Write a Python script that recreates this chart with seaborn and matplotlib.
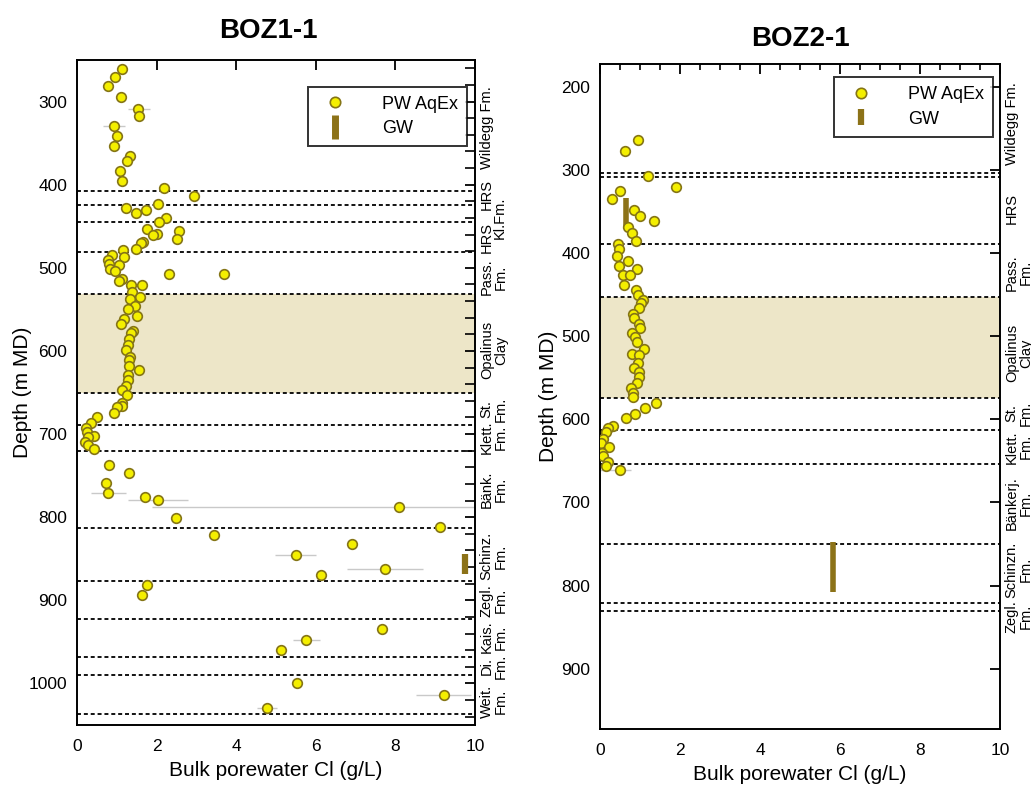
import numpy as np
import pandas as pd
import matplotlib
matplotlib.use("Agg")
import matplotlib.pyplot as plt
import matplotlib.transforms as mtransforms
from matplotlib.lines import Line2D
from matplotlib.ticker import MultipleLocator
import seaborn as sns

# ---------------- data: BOZ1-1 ----------------
boz1_cl = [1.14, 0.96, 0.78, 1.11, 1.54, 1.57, 0.92, 1.00, 0.93, 1.32, 1.26, 1.09, 1.13,
           2.19, 2.93, 2.03, 1.22, 1.74, 1.49, 2.24, 2.07, 1.77, 2.56, 2.01, 1.90, 2.50,
           1.67, 1.60, 1.47, 1.16, 0.87, 1.18, 0.78, 0.81, 1.06, 0.84, 0.95, 2.30, 3.70,
           1.13, 1.06, 1.36, 1.63, 1.38, 1.58, 1.32, 1.45, 1.29, 1.50, 1.19, 1.10, 1.40,
           1.35, 1.30, 1.29, 1.24, 1.33, 1.30, 1.31, 1.57, 1.29, 1.27, 1.23, 1.12, 1.25,
           1.12, 1.14, 1.00, 0.93, 0.49, 0.35, 0.22, 0.24, 0.42, 0.27, 0.20, 0.28, 0.42,
           0.80, 1.31, 0.72, 0.79, 1.72, 2.04, 8.10, 2.49, 9.11, 3.43, 6.90, 5.49, 7.73,
           6.14, 1.76, 1.64, 7.66, 5.75, 5.12, 5.53, 9.23, 4.78]
boz1_depth = [261, 270, 281, 294, 309, 317, 329, 341, 354, 365, 372, 384, 396,
              404, 414, 423, 428, 431, 434, 440, 445, 453, 456, 459, 461, 465,
              469, 470, 477, 479, 484, 487, 491, 495, 497, 501, 504, 507, 507,
              513, 516, 521, 521, 529, 535, 538, 546, 550, 558, 562, 568, 576,
              579, 586, 593, 599, 607, 611, 618, 623, 629, 635, 642, 647, 653,
              663, 666, 668, 675, 680, 687, 693, 698, 702, 704, 710, 713, 718,
              737, 747, 759, 771, 776, 779, 788, 801, 812, 821, 832, 846, 862,
              870, 882, 894, 935, 948, 960, 1000, 1014, 1030]
# uncertainty ranges (grey horizontal bars)
boz1_err_depth = [309, 329, 771, 779, 788, 846, 862, 948, 1014, 1030]
boz1_err_lo = [1.29, 0.65, 0.34, 1.29, 1.89, 4.97, 6.78, 5.43, 8.53, 4.52]
boz1_err_hi = [1.83, 1.21, 1.22, 2.80, 10.0, 6.00, 8.70, 6.10, 9.90, 5.02]
# groundwater samples (value, top, bottom)
boz1_gw_cl = [9.75]
boz1_gw_top = [844]
boz1_gw_bot = [868]
# formation boundaries
boz1_bounds = [407, 424, 445, 481, 531, 651, 689, 720, 813, 876.5, 922.6, 967.6, 990, 1037]
boz1_opa = (531, 651)
boz1_labels = ["Wildegg Fm.", "HRS", "Kl.Fm.", "HRS", "Pass.\nFm.", "Opalinus\nClay",
               "St.\nFm.", "Klett.\nFm.", "Bänk.\nFm.", "Schinz.\nFm.", "Zegl.\nFm.",
               "Kais.\nFm.", "Di.\nFm.", "Weit.\nFm."]
boz1_label_depth = [331, 412, 440, 464, 511, 599, 670, 704, 766, 847, 900, 944, 979, 1022]
boz1_label_col = [0, 0, 1, 0, 0, 0, 0, 0, 0, 0, 0, 0, 0, 0]

# ---------------- data: BOZ2-1 ----------------
boz2_cl = [0.94, 0.63, 1.19, 1.89, 0.49, 0.31, 0.85, 1.01, 1.36, 0.69, 0.80, 0.89, 0.46,
           0.47, 0.42, 0.69, 0.48, 0.93, 0.57, 0.75, 0.61, 0.91, 0.94, 1.08, 1.02, 0.98,
           0.82, 0.84, 0.97, 1.01, 0.80, 0.88, 0.93, 1.09, 0.79, 0.97, 0.94, 0.84, 0.97,
           0.97, 0.92, 0.78, 0.83, 0.83, 1.40, 1.13, 0.87, 0.65, 0.32, 0.21, 0.14, 0.08,
           0.03, 0.23, 0.05, 0.07, 0.20, 0.16, 0.50]
boz2_depth = [264, 277, 307.5, 321, 325.5, 335, 348, 355, 361, 368, 376, 385, 388.5,
              395, 403, 409, 415, 419, 426.6, 426.6, 438, 444, 450.6, 456.7, 459.5, 465.5,
              472.7, 477.5, 484.7, 489.5, 496.7, 501.5, 507, 514.8, 520.8, 522, 531.7, 537.7, 543.3,
              549, 556, 561.7, 568, 573.4, 580.6, 586.3, 593.5, 598.7, 607.5, 610.7, 614.7, 623.6,
              628, 633, 640, 644.4, 651, 656, 661]
boz2_err_depth = [661]
boz2_err_lo = [0.0]
boz2_err_hi = [0.77]
boz2_gw_cl = [0.65, 5.83]
boz2_gw_top = [334, 747.5]
boz2_gw_bot = [370, 807.7]
boz2_bounds = [304, 309, 389, 453, 574, 613, 654, 749.5, 821, 830]
boz2_opa = (453, 574)
boz2_labels = ["Wildegg Fm.", "HRS", "Pass.\nFm.", "Opalinus\nClay", "St.\nFm.",
               "Klett.\nFm.", "Bänkerj.\nFm.", "Schinzn.\nFm.", "Zegl.\nFm."]
boz2_label_depth = [244, 346, 423, 520, 593, 633, 701, 781, 837]
boz2_label_col = [0, 0, 0, 0, 0, 0, 0, 0, 0]

# ---------------- style ----------------
sns.set_theme(style="white")
plt.rcParams["font.family"] = ["Liberation Sans", "DejaVu Sans"]
plt.rcParams["axes.linewidth"] = 1.4
plt.rcParams["text.color"] = "black"
plt.rcParams["axes.labelcolor"] = "black"
plt.rcParams["xtick.color"] = "black"
plt.rcParams["ytick.color"] = "black"

FACE = "#F4EF00"
EDGE = "#857516"
GW = "#8C7218"
BAND = "#EDE6C8"

fig = plt.figure(figsize=(10.31, 7.87), dpi=100)
ax1 = fig.add_axes([77 / 1031, 1 - 725 / 787, 398 / 1031, 665 / 787])
ax2 = fig.add_axes([600 / 1031, 1 - 729 / 787, 400 / 1031, 665 / 787])


def draw(ax, cl, depth, edep, elo, ehi, gcl, gtop, gbot, bounds, opa,
         labels, ldepth, lcol, ylim, yticks, xminor, yminor, gw_lw, leg_bbox, leg_ms):
    ax.axhspan(opa[0], opa[1], color=BAND, lw=0, zorder=0)
    for b in bounds:
        ax.axhline(b, color="black", lw=1.3, ls=(0, (2.2, 1.6)), zorder=1)
    ax.hlines(edep, elo, ehi, color="#C9C9C9", lw=1.0, zorder=2)
    ax.vlines(gcl, gtop, gbot, color=GW, lw=gw_lw, zorder=3)
    df = pd.DataFrame({"cl": cl, "depth": depth})
    sns.scatterplot(data=df, x="cl", y="depth", ax=ax, s=48, color=FACE,
                    edgecolor=EDGE, linewidth=1.2, zorder=4, legend=False)
    ax.set_xlim(0, 10)
    ax.set_ylim(ylim[1], ylim[0])
    ax.set_xticks([0, 2, 4, 6, 8, 10])
    ax.set_yticks(yticks)
    if xminor:
        ax.xaxis.set_minor_locator(MultipleLocator(0.5))
    if yminor:
        ax.yaxis.set_minor_locator(MultipleLocator(20))
    ax.tick_params(which="major", direction="in", length=7, width=1.3,
                   top=True, right=True, labelsize=12.5, colors="black")
    ax.tick_params(axis="x", which="major", pad=10)
    ax.tick_params(axis="y", which="major", pad=7)
    ax.tick_params(which="minor", direction="in", length=4 if xminor else 7, width=1.2,
                   top=True, right=True)
    for sp in ax.spines.values():
        sp.set_color("black")
        sp.set_linewidth(1.4)
    ax.set_xlabel("Bulk porewater Cl (g/L)", fontsize=15, labelpad=5, color="black")
    ax.set_ylabel("Depth (m MD)", fontsize=15, color="black")
    trans = mtransforms.blended_transform_factory(ax.transAxes, ax.transData)
    for lab, d, c in zip(labels, ldepth, lcol):
        ax.text(1.012 + 0.033 * c, d, lab, transform=trans, rotation=90,
                ha="left", va="center", multialignment="center", fontsize=10.5,
                linespacing=1.0, clip_on=False, color="black")
    handles = [
        Line2D([], [], marker="o", ls="none", markersize=7.5, markerfacecolor=FACE,
               markeredgecolor=EDGE, markeredgewidth=1.2),
        Line2D([], [], marker="|", ls="none", markersize=leg_ms, markeredgewidth=gw_lw + 0.5,
               color=GW),
    ]
    leg = ax.legend(handles, ["PW AqEx", "GW"], loc="upper right", bbox_to_anchor=leg_bbox,
                    borderaxespad=0, fontsize=13, frameon=True, fancybox=False,
                    edgecolor="black", handletextpad=1.6, borderpad=0.5, labelspacing=0.4)
    leg.get_frame().set_linewidth(1.4)
    for t in leg.get_texts():
        t.set_color("black")


draw(ax1, boz1_cl, boz1_depth, boz1_err_depth, boz1_err_lo, boz1_err_hi,
     boz1_gw_cl, boz1_gw_top, boz1_gw_bot, boz1_bounds, boz1_opa,
     boz1_labels, boz1_label_depth, boz1_label_col, (250, 1050),
     list(range(300, 1001, 100)), False, True, 4.5, (0.98, 0.96), 17)
draw(ax2, boz2_cl, boz2_depth, boz2_err_depth, boz2_err_lo, boz2_err_hi,
     boz2_gw_cl, boz2_gw_top, boz2_gw_bot, boz2_bounds, boz2_opa,
     boz2_labels, boz2_label_depth, boz2_label_col, (172.5, 972.5),
     list(range(200, 901, 100)), True, False, 4.0, (0.9825, 0.98), 11)

ax1.yaxis.set_label_coords(-0.113, 0.5)
ax2.yaxis.set_label_coords(-0.105, 0.5)

fig.text(268 / 1031, 1 - 31 / 787, "BOZ1-1", ha="center", va="center",
         fontsize=20, fontweight="bold", color="black")
fig.text(800 / 1031, 1 - 39 / 787, "BOZ2-1", ha="center", va="center",
         fontsize=20, fontweight="bold", color="black")

fig.savefig("out.png", dpi=100)
